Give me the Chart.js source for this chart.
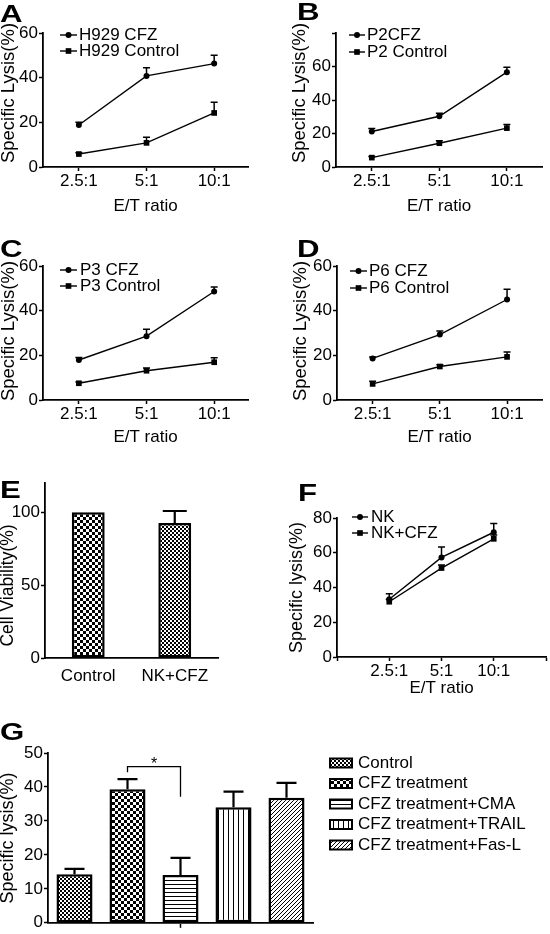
<!DOCTYPE html>
<html>
<head>
<meta charset="utf-8">
<script src="https://cdn.jsdelivr.net/npm/chart.js@4.4.1/dist/chart.umd.min.js"></script>
<style>
  body { margin: 0; background: #fff; overflow: hidden; }
  #fig { position: relative; width: 550px; height: 934px; background: #fff; font-family: 'Liberation Sans', Arial, sans-serif; }
  canvas { position: absolute; }
  .lab { position: absolute; font-weight: bold; font-size: 24px; line-height: 24px; color: #000; transform: scaleX(1.3); transform-origin: left top; }
</style>
</head>
<body>
<div id="fig">
  <canvas id="pA" width="277" height="217" style="left:-2px;top:0"></canvas>
  <canvas id="pB" width="261" height="217" style="left:289px;top:0"></canvas>
  <canvas id="pC" width="277" height="228" style="left:-2px;top:220px"></canvas>
  <canvas id="pD" width="260" height="228" style="left:290px;top:220px"></canvas>
  <canvas id="pE" width="279" height="240" style="left:-4px;top:460px"></canvas>
  <canvas id="pF" width="264" height="229" style="left:286px;top:470px"></canvas>
  <canvas id="pG" width="552" height="234" style="left:-2px;top:700px"></canvas>
  <div class="lab" style="left:0;top:2px">A</div>
  <div class="lab" style="left:297px;top:0">B</div>
  <div class="lab" style="left:0;top:237px">C</div>
  <div class="lab" style="left:297px;top:237px">D</div>
  <div class="lab" style="left:0;top:478px">E</div>
  <div class="lab" style="left:298px;top:481px">F</div>
  <div class="lab" style="left:0;top:720px">G</div>
</div>
<script>
// E/T ratio categories
const ratioLabels = ['2.5:1', '5:1', '10:1'];

// A: H929
const h929Cfz = [18.8, 40.8, 46.3];
const h929CfzErr = [1.2, 3.6, 3.7];
const h929Control = [5.8, 10.8, 24.2];
const h929ControlErr = [0.6, 2.5, 4.8];

// B: P2
const p2Cfz = [21.2, 30.3, 56.6];
const p2CfzErr = [1.8, 1.8, 2.9];
const p2Control = [5.6, 14.2, 23.2];
const p2ControlErr = [0.6, 1.4, 2.2];

// C: P3
const p3Cfz = [17.9, 28.6, 48.6];
const p3CfzErr = [1.1, 3.1, 2.0];
const p3Control = [7.5, 13.1, 16.9];
const p3ControlErr = [0.6, 1.2, 2.0];

// D: P6
const p6Cfz = [18.6, 29.3, 45.0];
const p6CfzErr = [0.6, 1.6, 4.6];
const p6Control = [7.2, 15.0, 19.3];
const p6ControlErr = [1.2, 0.8, 2.2];

// E: viability
const viabilityLabels = ['Control', 'NK+CFZ'];
const viability = [100, 92.5];
const viabilityErr = [0, 8.3];

// F: NK
const nk = [33.2, 57.3, 71.8];
const nkErr = [3.2, 6.0, 5.0];
const nkCfz = [31.8, 51.2, 68.0];
const nkCfzErr = [1.5, 1.8, 2.2];

// G: mechanism
const mechLabels = ['Control', 'CFZ treatment', 'CFZ treatment+CMA', 'CFZ treatment+TRAIL', 'CFZ treatment+Fas-L'];
const mechLysis = [14.3, 39.3, 14.1, 34.0, 36.8];
const mechErr = [1.6, 3.0, 5.0, 4.6, 4.4];

const FONT = "'Liberation Sans', Arial, sans-serif";
const tickFont = { family: FONT, size: 17 };

function makePattern(w, h, draw) {
  const c = document.createElement('canvas');
  c.width = w; c.height = h;
  const g = c.getContext('2d');
  g.fillStyle = '#fff';
  g.fillRect(0, 0, w, h);
  g.fillStyle = '#000';
  draw(g);
  return g.createPattern(c, 'repeat');
}
const fineChecker = makePattern(4, 4, g => { g.fillRect(0, 0, 2, 2); g.fillRect(2, 2, 2, 2); });
const coarseChecker = makePattern(6, 6, g => { g.fillRect(0, 0, 3, 3); g.fillRect(3, 3, 3, 3); });
const hLines = makePattern(4, 4, g => { g.fillRect(0, 0, 4, 1); });
const vLines = makePattern(5, 5, g => { g.fillRect(0, 0, 1, 5); });
const diagLines = makePattern(4, 4, g => { for (let i = 0; i < 4; i++) g.fillRect(i, 3 - i, 1, 1); });

const errorBars = {
  id: 'errorBars',
  afterDatasetsDraw(chart, args, o) {
    const ctx = chart.ctx, ys = chart.scales.y;
    ctx.save();
    ctx.strokeStyle = '#000';
    ctx.lineWidth = o.width || 1.5;
    chart.data.datasets.forEach((ds, di) => {
      if (!ds.errors) return;
      chart.getDatasetMeta(di).data.forEach((el, i) => {
        const err = ds.errors[i];
        if (!err) return;
        const raw = ds.data[i];
        const v = typeof raw === 'object' ? raw.y : raw;
        const top = ys.getPixelForValue(v + err);
        ctx.beginPath();
        ctx.moveTo(el.x, el.y);
        ctx.lineTo(el.x, top);
        ctx.moveTo(el.x - o.cap, top);
        ctx.lineTo(el.x + o.cap, top);
        ctx.stroke();
      });
    });
    ctx.restore();
  }
};

// y-axis title, centred on the axis with a small shift like the original
const yTitle = {
  id: 'yTitle',
  afterDraw(chart, args, o) {
    if (!o.text) return;
    const ctx = chart.ctx, a = chart.chartArea;
    ctx.save();
    ctx.translate(o.x, (a.top + a.bottom) / 2 + (o.dy || 0));
    ctx.rotate(-Math.PI / 2);
    ctx.font = (o.size || 18) + 'px ' + FONT;
    ctx.fillStyle = '#000';
    ctx.textAlign = 'center';
    ctx.textBaseline = 'middle';
    ctx.fillText(o.text, 0, 0);
    ctx.restore();
  }
};

const panelLegend = {
  id: 'panelLegend',
  afterDraw(chart, args, o) {
    if (o.x === undefined) return;
    const ctx = chart.ctx;
    ctx.save();
    ctx.font = '17px ' + FONT;
    ctx.textBaseline = 'middle';
    ctx.strokeStyle = '#000';
    if (o.kind === 'box') {
      const ds = chart.data.datasets[0];
      chart.data.labels.forEach((lab, i) => {
        const y = o.y + i * o.rowH;
        ctx.fillStyle = ds.backgroundColor[i];
        ctx.fillRect(o.x, y - o.h / 2, o.w, o.h);
        ctx.lineWidth = 2;
        ctx.strokeRect(o.x, y - o.h / 2, o.w, o.h);
        ctx.fillStyle = '#000';
        ctx.fillText(lab, o.textX, y);
      });
    } else {
      chart.data.datasets.forEach((ds, i) => {
        const y = o.y + i * o.rowH;
        ctx.fillStyle = '#000';
        ctx.lineWidth = 1.4;
        ctx.beginPath();
        ctx.moveTo(o.x, y);
        ctx.lineTo(o.x + o.len, y);
        ctx.stroke();
        Chart.helpers.drawPoint(ctx, { pointStyle: ds.pointStyle, radius: ds.pointRadius, rotation: 0, borderWidth: 0 }, o.x + o.len / 2, y);
        ctx.fillText(ds.label, o.textX, y);
      });
    }
    ctx.restore();
  }
};

const sigBracket = {
  id: 'sigBracket',
  afterDraw(chart, args, o) {
    if (!o.pair) return;
    const xs = chart.scales.x, ys = chart.scales.y, ctx = chart.ctx;
    const x1 = xs.getPixelForValue(o.pair[0]);
    const x2 = xs.getPixelForValue(o.pair[1]);
    const yTop = ys.getPixelForValue(o.level);
    ctx.save();
    ctx.strokeStyle = '#000';
    ctx.lineWidth = 1.3;
    ctx.beginPath();
    ctx.moveTo(x1, ys.getPixelForValue(o.leftEnd));
    ctx.lineTo(x1, yTop);
    ctx.lineTo(x2, yTop);
    ctx.lineTo(x2, ys.getPixelForValue(o.rightEnd));
    ctx.stroke();
    ctx.fillStyle = '#000';
    ctx.font = '16px ' + FONT;
    ctx.textAlign = 'center';
    ctx.textBaseline = 'alphabetic';
    ctx.fillText(o.label, (x1 + x2) / 2, yTop + 2);
    ctx.restore();
  }
};

function yAxis(p) {
  return {
    min: 0, max: p.yMax,
    afterBuildTicks: s => { s.ticks = p.yTicks.map(v => ({ value: v })); },
    afterFit: s => { s.width = p.yW; },
    grid: { drawOnChartArea: false, tickLength: 4, tickWidth: 1.5, tickColor: '#000' },
    border: { color: '#000', width: 1.8 },
    ticks: { color: '#000', font: tickFont, padding: 1, callback: v => (p.yHide || []).includes(v) ? '' : v }
  };
}

function linePanel(id, p) {
  new Chart(document.getElementById(id), {
    type: 'line',
    data: {
      datasets: p.series.map((s, k) => ({
        label: s.label,
        data: s.values.map((v, i) => ({ x: i, y: v })),
        errors: s.errors,
        borderColor: '#000',
        backgroundColor: '#000',
        borderWidth: 1.4,
        pointStyle: k === 0 ? 'circle' : 'rect',
        pointRadius: k === 0 ? 3 : 4,
        pointBorderWidth: 0,
        tension: 0,
        clip: false
      }))
    },
    options: {
      responsive: false,
      animation: false,
      layout: { padding: { left: 0, top: p.padTop, right: p.padRight, bottom: 0 } },
      scales: {
        x: {
          type: 'linear', min: p.xMin, max: p.xMax,
          afterBuildTicks: s => { s.ticks = p.xTicks.map(v => ({ value: v })); },
          afterFit: s => { s.height = p.xH; },
          grid: { drawOnChartArea: false, tickLength: 4, tickWidth: 1.5, tickColor: '#000' },
          border: { color: '#000', width: 1.8 },
          ticks: { color: '#000', font: tickFont, padding: 0, maxRotation: 0, autoSkip: false, callback: v => ratioLabels[v] ?? '' },
          title: { display: true, text: 'E/T ratio', color: '#000', font: tickFont, padding: 0 }
        },
        y: yAxis(p)
      },
      plugins: {
        legend: { display: false },
        tooltip: { enabled: false },
        errorBars: { cap: 3.5, width: 1.5 },
        panelLegend: p.legend,
        yTitle: p.title
      }
    },
    plugins: [errorBars, panelLegend, yTitle]
  });
}

linePanel('pA', {
  series: [
    { label: 'H929 CFZ', values: h929Cfz, errors: h929CfzErr },
    { label: 'H929 Control', values: h929Control, errors: h929ControlErr }
  ],
  yW: 45, padTop: 33, padRight: 27, xH: 50,
  xMin: -0.53, xMax: 2.5, xTicks: [0, 1, 2],
  yMax: 60, yTicks: [0, 20, 40, 60],
  title: { text: 'Specific Lysis(%)', x: 11, dy: -7, size: 18.5 },
  legend: { x: 62, len: 17, textX: 81, y: 35, rowH: 16 }
});

linePanel('pB', {
  series: [
    { label: 'P2CFZ', values: p2Cfz, errors: p2CfzErr },
    { label: 'P2 Control', values: p2Control, errors: p2ControlErr }
  ],
  yW: 47, padTop: 33, padRight: 8, xH: 50,
  xMin: -0.53, xMax: 2.52, xTicks: [0, 1, 2],
  yMax: 80, yTicks: [0, 20, 40, 60, 80], yHide: [80],
  title: { text: 'Specific Lysis(%)', x: 11, dy: -7, size: 18.5 },
  legend: { x: 60, len: 16, textX: 78, y: 35, rowH: 17 }
});

linePanel('pC', {
  series: [
    { label: 'P3 CFZ', values: p3Cfz, errors: p3CfzErr },
    { label: 'P3 Control', values: p3Control, errors: p3ControlErr }
  ],
  yW: 45, padTop: 46, padRight: 27, xH: 48,
  xMin: -0.53, xMax: 2.5, xTicks: [0, 1, 2],
  yMax: 60, yTicks: [0, 20, 40, 60],
  title: { text: 'Specific Lysis(%)', x: 11, dy: -2, size: 18.5 },
  legend: { x: 62, len: 17, textX: 82, y: 50, rowH: 16 }
});

linePanel('pD', {
  series: [
    { label: 'P6 CFZ', values: p6Cfz, errors: p6CfzErr },
    { label: 'P6 Control', values: p6Control, errors: p6ControlErr }
  ],
  yW: 47, padTop: 46, padRight: 8, xH: 48,
  xMin: -0.53, xMax: 2.52, xTicks: [0, 1, 2],
  yMax: 60, yTicks: [0, 20, 40, 60],
  title: { text: 'Specific Lysis(%)', x: 11, dy: -2, size: 18.5 },
  legend: { x: 60, len: 17, textX: 79, y: 51, rowH: 17 }
});

linePanel('pF', {
  series: [
    { label: 'NK', values: nk, errors: nkErr },
    { label: 'NK+CFZ', values: nkCfz, errors: nkCfzErr }
  ],
  yW: 51, padTop: 48, padRight: 1, xH: 42,
  xMin: -1, xMax: 3, xTicks: [-1, 0, 1, 2, 3],
  yMax: 80, yTicks: [0, 20, 40, 60, 80],
  title: { text: 'Specific lysis(%)', x: 11, dy: 0, size: 18 },
  legend: { x: 66, len: 16, textX: 85, y: 47, rowH: 16 }
});

// E: bar chart of viability
new Chart(document.getElementById('pE'), {
  type: 'bar',
  data: {
    labels: viabilityLabels,
    datasets: [{
      data: viability,
      errors: viabilityErr,
      backgroundColor: [coarseChecker, fineChecker],
      borderColor: '#000',
      borderWidth: 2.5,
      borderSkipped: false,
      barPercentage: 0.38,
      categoryPercentage: 1
    }]
  },
  options: {
    responsive: false,
    animation: false,
    layout: { padding: { left: 0, top: 23, right: 57, bottom: 0 } },
    scales: {
      x: {
        afterFit: s => { s.height = 42; },
        grid: { drawOnChartArea: false, tickLength: 8, tickColor: 'rgba(0,0,0,0)' },
        border: { color: '#000', width: 1.8 },
        ticks: { color: '#000', font: tickFont, padding: 0 }
      },
      y: yAxis({ yMax: 120, yTicks: [0, 50, 100], yW: 49 })
    },
    plugins: {
      legend: { display: false },
      tooltip: { enabled: false },
      errorBars: { cap: 12, width: 2.2 },
      yTitle: { text: 'Cell Viability(%)', x: 12, dy: 15, size: 17.5 }
    }
  },
  plugins: [errorBars, yTitle]
});

// G: bar chart of lysis by treatment
new Chart(document.getElementById('pG'), {
  type: 'bar',
  data: {
    labels: mechLabels,
    datasets: [{
      data: mechLysis,
      errors: mechErr,
      backgroundColor: [fineChecker, coarseChecker, hLines, vLines, diagLines],
      borderColor: '#000',
      borderWidth: 2.5,
      borderSkipped: false,
      barPercentage: 0.68,
      categoryPercentage: 1
    }]
  },
  options: {
    responsive: false,
    animation: false,
    layout: { padding: { left: 0, top: 53, right: 237, bottom: 0 } },
    scales: {
      x: {
        afterFit: s => { s.height = 6; },
        grid: { offset: false, drawOnChartArea: false, tickLength: 5, tickWidth: 1.5, tickColor: c => c.index === 2 ? '#000' : 'rgba(0,0,0,0)' },
        border: { color: '#000', width: 1.8 },
        ticks: { display: false }
      },
      y: yAxis({ yMax: 50, yTicks: [0, 10, 20, 30, 40, 50], yW: 50 })
    },
    plugins: {
      legend: { display: false },
      tooltip: { enabled: false },
      errorBars: { cap: 10, width: 2.2 },
      yTitle: { text: 'Specific lysis(%)', x: 10, dy: 0, size: 18 },
      panelLegend: { kind: 'box', x: 332, w: 22, h: 9, textX: 360, y: 63, rowH: 20.5 },
      sigBracket: { pair: [1, 2], level: 46, leftEnd: 44.3, rightEnd: 37.1, label: '*' }
    }
  },
  plugins: [errorBars, panelLegend, sigBracket, yTitle]
});
</script>
</body>
</html>
